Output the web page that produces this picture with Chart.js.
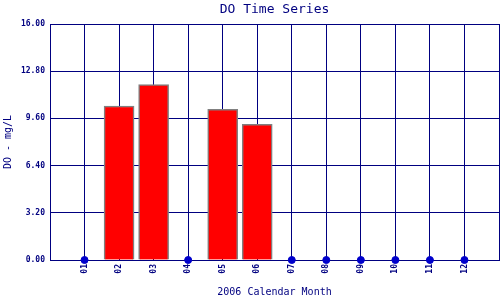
<!DOCTYPE html>
<html>
<head>
<meta charset="utf-8">
<script src="https://cdn.jsdelivr.net/npm/chart.js@4/dist/chart.umd.min.js"></script>
<style>
  html, body { margin: 0; padding: 0; background: #fff; }
  #wrap { width: 500px; height: 300px; }
</style>
</head>
<body>
<div id="wrap"><canvas id="doChart" width="500" height="300"></canvas></div>
<script>
// month labels and DO readings (null = no sample that month)
const months = ['01', '02', '03', '04', '05', '06', '07', '08', '09', '10', '11', '12'];
const doValues = [null, 10.44, 11.9, null, 10.22, 9.2, null, null, null, null, null, null];
const yTicks = [0, 3.2, 6.4, 9.6, 12.8, 16];

const navy = '#000080';
const mono = 'DejaVu Sans Mono';

const barPoints = [];
const missingPoints = [];
months.forEach((m, i) => {
  if (doValues[i] === null) missingPoints.push({ x: i + 1, y: 0 });
  else barPoints.push({ x: i + 1, y: doValues[i] });
});

// title centred over the plot area rather than the whole canvas
const plotTitle = {
  id: 'plotTitle',
  afterDraw(chart) {
    const { ctx, chartArea } = chart;
    ctx.save();
    ctx.fillStyle = navy;
    ctx.font = '13px "' + mono + '"';
    ctx.textAlign = 'center';
    ctx.textBaseline = 'middle';
    ctx.fillText('DO Time Series', (chartArea.left + chartArea.right) / 2, 10);
    ctx.restore();
  }
};

new Chart(document.getElementById('doChart'), {
  type: 'bar',
  data: {
    datasets: [
      {
        type: 'scatter',
        data: missingPoints,
        backgroundColor: '#0000cc',
        borderColor: '#0000cc',
        pointRadius: 3.5,
        clip: false,
        order: 0
      },
      {
        data: barPoints,
        backgroundColor: '#ff0000',
        borderColor: '#808080',
        borderWidth: 1.5,
        barThickness: 30,
        order: 1
      }
    ]
  },
  options: {
    responsive: false,
    animation: false,
    layout: { autoPadding: false, padding: { top: 24, right: 1, left: 0, bottom: 0 } },
    plugins: {
      legend: { display: false },
      tooltip: { enabled: false }
    },
    scales: {
      x: {
        type: 'linear',
        min: 0,
        max: 13,
        offset: false,
        afterFit: s => { s.height = 40; s.paddingLeft = 0; s.paddingRight = 0; },
        afterBuildTicks: s => { s.ticks = Array.from({ length: 14 }, (_, i) => ({ value: i })); },
        grid: { color: navy, lineWidth: 1, drawTicks: false, offset: false },
        border: { color: navy, width: 1 },
        ticks: {
          color: navy,
          font: { family: mono, size: 8, weight: 'bold' },
          minRotation: 90,
          maxRotation: 90,
          padding: 4,
          autoSkip: false,
          callback: v => (v >= 1 && v <= 12 ? months[v - 1] : '')
        },
        title: {
          display: true,
          text: '2006 Calendar Month',
          color: navy,
          font: { family: mono, size: 10 },
          padding: { top: 0, bottom: 2 }
        }
      },
      y: {
        min: 0,
        max: 16,
        afterFit: s => { s.width = 50; s.paddingTop = 0; s.paddingBottom = 0; },
        afterBuildTicks: s => { s.ticks = yTicks.map(v => ({ value: v })); },
        grid: { color: navy, lineWidth: 1, drawTicks: false },
        border: { color: navy, width: 1 },
        ticks: {
          color: navy,
          font: { family: mono, size: 8, weight: 'bold' },
          padding: 5,
          callback: v => v.toFixed(2)
        },
        title: {
          display: true,
          text: 'DO - mg/L',
          color: navy,
          font: { family: mono, size: 10 },
          padding: { top: 2, bottom: 0 }
        }
      }
    }
  },
  plugins: [plotTitle]
});
</script>
</body>
</html>
